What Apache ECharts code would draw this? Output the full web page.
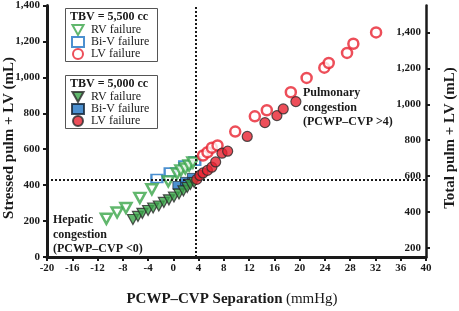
<!DOCTYPE html>
<html>
<head>
<meta charset="utf-8">
<script src="https://cdn.jsdelivr.net/npm/echarts@6/dist/echarts.min.js"></script>
<style>
  html, body { margin: 0; padding: 0; background: #fff; }
  #chart { width: 459px; height: 311px; }
</style>
</head>
<body>
<div id="chart"></div>
<script>
// TBV = 5,500 cc  (open markers)
const rvOpen = [[-10.6, 213], [-8.9, 248], [-7.5, 273], [-5.3, 329], [-3.4, 377], [-0.8, 421],
  [0.6, 465], [1.2, 482], [1.9, 493], [2.5, 509], [3.1, 526]];
const biVOpen = [[-2.6, 437], [-0.5, 473], [1.8, 512], [3.4, 534]];
const lvOpen = [[4.7, 565], [5.4, 583], [6.1, 608], [7.0, 621], [9.8, 698], [12.9, 783], [14.8, 817],
  [18.6, 917], [21.1, 997], [23.9, 1054], [24.6, 1080], [27.5, 1136], [28.5, 1187], [32.1, 1250]];

// TBV = 5,000 cc  (filled markers)
const rvFilled = [[-6.4, 209], [-5.6, 226], [-4.9, 243], [-4.0, 259], [-3.2, 273], [-2.3, 284],
  [-1.5, 304], [-0.7, 318], [0.1, 334], [0.9, 351], [1.6, 368], [2.2, 387], [2.7, 404], [3.3, 415]];
const biVFilled = [[0.8, 398], [2.0, 421], [3.1, 443]];
const lvFilled = [[3.7, 432], [4.2, 454], [4.7, 468], [5.4, 482], [6.1, 500], [6.7, 529], [7.7, 578],
  [8.6, 589], [11.7, 671], [14.5, 748], [16.4, 787], [17.4, 824], [19.4, 865]];

// reference lines
const refX = 3.6;
const refY = 432;

// right axis (total volume) ticks
const rightTicks = [200, 400, 600, 800, 1000, 1200, 1400];

const FONT = 'Liberation Serif';
const RED = '#e8222f';
const GREEN = '#3aa548';
const BLUE = '#1f74c4';
const INK = '#1a1a1a';
const DOWN_TRI = 'path://M0,0L20,0L10,18Z';

const fmt = v => v.toLocaleString('en-US');

const chart = echarts.init(document.getElementById('chart'));

function scatter(name, data, symbol, size, style, z) {
  return {
    name: name,
    type: 'scatter',
    data: data,
    symbol: symbol,
    symbolSize: size,
    itemStyle: style,
    z: z,
    emphasis: { disabled: true }
  };
}

const option = {
  animation: false,
  backgroundColor: '#fff',
  textStyle: { fontFamily: FONT },
  grid: { left: 47, right: 33, top: 5, bottom: 54 },
  xAxis: {
    type: 'value',
    min: -20,
    max: 40,
    interval: 4,
    axisLine: { onZero: false, lineStyle: { color: INK, width: 3 } },
    axisTick: { length: 4, lineStyle: { color: INK, width: 2 } },
    axisLabel: { color: INK, fontFamily: FONT, fontWeight: 'bold', fontSize: 11, margin: 6 },
    splitLine: { show: false }
  },
  yAxis: [{
    type: 'value',
    min: 0,
    max: 1400,
    interval: 200,
    axisLine: { show: true, onZero: false, lineStyle: { color: INK, width: 3 } },
    axisTick: { show: true, length: 4, lineStyle: { color: INK, width: 2 } },
    axisLabel: { color: INK, fontFamily: FONT, fontWeight: 'bold', fontSize: 11, margin: 7, formatter: fmt },
    splitLine: { show: false }
  }, {
    type: 'value',
    position: 'right',
    min: 150,
    max: 1550,
    axisLine: { show: true, onZero: false, lineStyle: { color: INK, width: 2.5 } },
    axisTick: { show: true, length: 4, customValues: rightTicks, lineStyle: { color: INK, width: 2 } },
    axisLabel: {
      inside: true, color: INK, fontFamily: FONT, fontWeight: 'bold', fontSize: 11, margin: 5,
      customValues: rightTicks, formatter: fmt
    },
    splitLine: { show: false }
  }],
  legend: [{
    orient: 'vertical',
    left: 71,
    top: 24,
    itemWidth: 12,
    itemHeight: 10,
    itemGap: 0,
    padding: 0,
    data: ['RV failure', 'Bi-V failure', 'LV failure'],
    textStyle: { fontFamily: FONT, fontSize: 12, color: INK, padding: [0, 0, 0, 2] },
    selectedMode: false
  }, {
    orient: 'vertical',
    left: 71,
    top: 91,
    itemWidth: 12,
    itemHeight: 10,
    itemGap: 0,
    padding: 0,
    data: ['RV failure ', 'Bi-V failure ', 'LV failure '],
    textStyle: { fontFamily: FONT, fontSize: 12, color: INK, padding: [0, 0, 0, 2] },
    selectedMode: false
  }],
  graphic: [
    { type: 'rect', shape: { x: 65.5, y: 8.5, width: 92, height: 53 }, style: { fill: 'none', stroke: '#555', lineWidth: 1 } },
    { type: 'rect', shape: { x: 65.5, y: 75.5, width: 92, height: 53 }, style: { fill: 'none', stroke: '#555', lineWidth: 1 } },
    { type: 'text', x: 70, y: 11, style: { text: 'TBV = 5,500 cc', font: 'bold 12px "Liberation Serif"', fill: INK } },
    { type: 'text', x: 70, y: 78, style: { text: 'TBV = 5,000 cc', font: 'bold 12px "Liberation Serif"', fill: INK } },
    { type: 'text', x: 53, y: 213, style: { text: 'Hepatic\ncongestion\n(PCWP–CVP <0)', font: 'bold 12px "Liberation Serif"', lineHeight: 14.5, fill: INK } },
    { type: 'text', x: 303, y: 86, style: { text: 'Pulmonary\ncongestion\n(PCWP–CVP >4)', font: 'bold 12px "Liberation Serif"', lineHeight: 14.5, fill: INK } },
    { type: 'text', x: 9, y: 138, rotation: Math.PI / 2,
      style: { text: 'Stressed pulm + LV (mL)', font: 'bold 15px "Liberation Serif"', fill: INK, align: 'center', verticalAlign: 'middle' } },
    { type: 'text', x: 450, y: 138, rotation: Math.PI / 2,
      style: { text: 'Total pulm + LV (mL)', font: 'bold 15px "Liberation Serif"', fill: INK, align: 'center', verticalAlign: 'middle' } },
    { type: 'text', x: 232, y: 299,
      style: {
        text: '{b|PCWP–CVP Separation} {n|(mmHg)}',
        align: 'center', verticalAlign: 'middle',
        rich: {
          b: { fontFamily: FONT, fontWeight: 'bold', fontSize: 15, fill: INK },
          n: { fontFamily: FONT, fontSize: 15, fill: INK }
        }
      } }
  ],
  series: [
    scatter('Bi-V failure ', biVFilled, 'rect', [11, 8], { color: BLUE, borderColor: '#123', borderWidth: 0.8 }, 2),
    scatter('Bi-V failure', biVOpen, 'rect', [11, 8], { color: '#fff', borderColor: BLUE, borderWidth: 2 }, 3),
    scatter('RV failure', rvOpen, DOWN_TRI, [11, 10], { color: '#fff', borderColor: GREEN, borderWidth: 2.5 }, 4),
    Object.assign(
      scatter('RV failure ', rvFilled, DOWN_TRI, [11, 10], { color: GREEN, borderColor: '#2b2b2b', borderWidth: 1.2 }, 5),
      {
        markLine: {
          silent: true,
          symbol: ['none', 'none'],
          label: { show: false },
          lineStyle: { color: INK, type: 'dotted', width: 2 },
          data: [{ xAxis: refX }, { yAxis: refY }]
        }
      }
    ),
    scatter('LV failure', lvOpen, 'circle', 10, { color: '#fff', borderColor: RED, borderWidth: 2.5 }, 6),
    scatter('LV failure ', lvFilled, 'circle', 10, { color: RED, borderColor: '#2b2b2b', borderWidth: 1.2 }, 7)
  ]
};

chart.setOption(option);
</script>
</body>
</html>
